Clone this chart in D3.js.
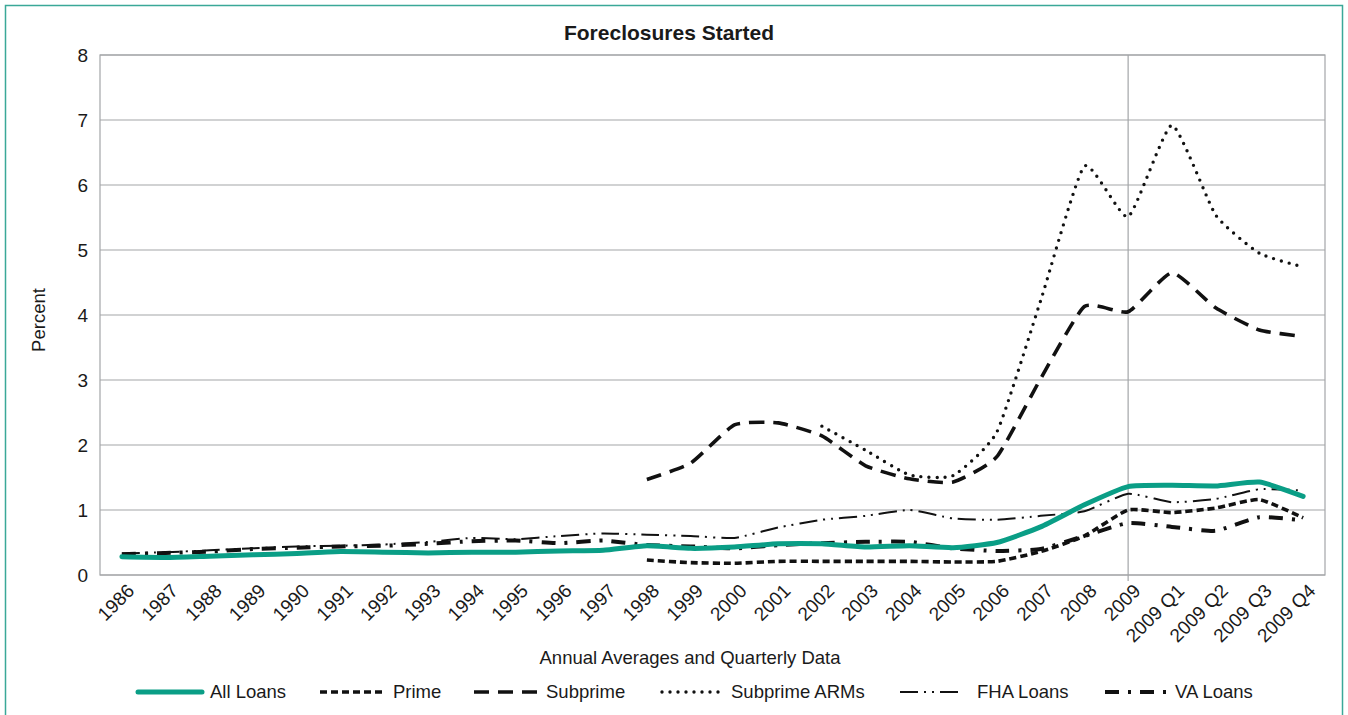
<!DOCTYPE html>
<html>
<head>
<meta charset="utf-8">
<script src="https://cdn.jsdelivr.net/npm/d3@7"></script>
<style>
  body { margin: 0; background: #fff; }
  text { font-family: "Liberation Sans", Arial, sans-serif; fill: #1a1a1a; }
</style>
</head>
<body>
<script>
// categories and series (percent)
var categories = ["1986","1987","1988","1989","1990","1991","1992","1993","1994","1995","1996","1997",
  "1998","1999","2000","2001","2002","2003","2004","2005","2006","2007","2008","2009",
  "2009 Q1","2009 Q2","2009 Q3","2009 Q4"];

var allLoans = [0.28,0.27,0.29,0.31,0.33,0.36,0.35,0.34,0.35,0.35,0.37,0.38,
  0.45,0.41,0.43,0.48,0.48,0.43,0.45,0.42,0.50,0.74,1.08,1.36,1.38,1.37,1.43,1.21];
var prime = [null,null,null,null,null,null,null,null,null,null,null,null,
  0.23,0.19,0.18,0.21,0.21,0.21,0.21,0.20,0.21,0.36,0.60,1.00,0.96,1.03,1.16,0.88];
var subprime = [null,null,null,null,null,null,null,null,null,null,null,null,
  1.47,1.72,2.31,2.34,2.14,1.68,1.48,1.43,1.82,3.02,4.13,4.05,4.65,4.11,3.77,3.67];
var subprimeArms = [null,null,null,null,null,null,null,null,null,null,null,null,
  null,null,null,null,2.29,1.92,1.54,1.53,2.20,4.22,6.29,5.51,6.92,5.54,4.95,4.74];
var fhaLoans = [0.33,0.35,0.38,0.41,0.44,0.45,0.47,0.51,0.57,0.55,0.60,0.64,
  0.62,0.60,0.57,0.73,0.85,0.91,1.00,0.87,0.85,0.91,0.98,1.25,1.12,1.17,1.32,1.30];
var vaLoans = [0.32,0.34,0.36,0.40,0.42,0.44,0.45,0.48,0.52,0.53,0.49,0.53,
  0.46,0.44,0.41,0.46,0.49,0.51,0.51,0.41,0.37,0.40,0.60,0.80,0.74,0.68,0.89,0.84];

var yTicks = [0,1,2,3,4,5,6,7,8];

var seriesNames = ["All Loans","Prime","Subprime","Subprime ARMs","FHA Loans","VA Loans"];
var seriesValues = [allLoans, prime, subprime, subprimeArms, fhaLoans, vaLoans];
var seriesStyle = [
  {color:"#0a9e86", width:5,   dash:null,               cap:"round"},
  {color:"#111",    width:3.6, dash:"7,4",              cap:"butt"},
  {color:"#111",    width:3.6, dash:"15,9",             cap:"butt"},
  {color:"#111",    width:3.4, dash:"0,8",              cap:"round"},
  {color:"#111",    width:2,   dash:"18,6,2,6,2,6",     cap:"butt"},
  {color:"#111",    width:4,   dash:"14,9,3,9",         cap:"butt"}
];

var width = 1348, height = 715;
var margin = {left:100, right:23, top:55, bottom:140};

var svg = d3.select("body").append("svg")
  .attr("width", width)
  .attr("height", height);

// outer frame
svg.append("rect")
  .attr("x", 5.5).attr("y", 5.5)
  .attr("width", 1337).attr("height", 720)
  .attr("fill", "none")
  .attr("stroke", "#3aa898")
  .attr("stroke-width", 1.5);

var x = d3.scalePoint()
  .domain(categories)
  .range([margin.left, width - margin.right])
  .padding(0.5);

var y = d3.scaleLinear()
  .domain([0, 8])
  .range([height - margin.bottom, margin.top]);

// gridlines
svg.append("g").selectAll("line")
  .data(yTicks)
  .enter().append("line")
  .attr("x1", margin.left).attr("x2", width - margin.right)
  .attr("y1", function(d){ return y(d); })
  .attr("y2", function(d){ return y(d); })
  .attr("stroke", "#a3a6a8")
  .attr("stroke-width", 1.2);

// plot frame
svg.append("rect")
  .attr("x", margin.left).attr("y", margin.top)
  .attr("width", width - margin.right - margin.left)
  .attr("height", height - margin.bottom - margin.top)
  .attr("fill", "none")
  .attr("stroke", "#a3a6a8")
  .attr("stroke-width", 1.2);

// divider between annual and quarterly data
svg.append("line")
  .attr("x1", x("2009")).attr("x2", x("2009"))
  .attr("y1", margin.top).attr("y2", height - margin.bottom + 6)
  .attr("stroke", "#a3a6a8")
  .attr("stroke-width", 1.2);

// y axis labels
var yAxis = d3.axisLeft(y).tickValues(yTicks).tickSize(0).tickPadding(12);
var yg = svg.append("g")
  .attr("transform", "translate(" + margin.left + ",0)")
  .call(yAxis);
yg.select(".domain").remove();
yg.selectAll("text")
  .style("font-size", "19px")
  .style("font-family", "'Liberation Sans', Arial, sans-serif")
  .attr("fill", "#1a1a1a");

// x axis labels
var xAxis = d3.axisBottom(x).tickSize(0).tickPadding(0);
var xg = svg.append("g")
  .attr("transform", "translate(0," + (height - margin.bottom) + ")")
  .call(xAxis);
xg.select(".domain").remove();
xg.selectAll("text")
  .style("font-size", "19px")
  .style("font-family", "'Liberation Sans', Arial, sans-serif")
  .attr("fill", "#1a1a1a")
  .attr("text-anchor", "end")
  .attr("dy", "0")
  .attr("y", 0)
  .attr("transform", "translate(13,17) rotate(-45)");

// lines
var line = d3.line()
  .defined(function(d){ return d.v != null; })
  .x(function(d){ return x(d.c); })
  .y(function(d){ return y(d.v); })
  .curve(d3.curveCardinal.tension(0.5));

var drawOrder = [5, 4, 1, 2, 3, 0];
drawOrder.forEach(function(i){
  var pts = categories.map(function(c, j){ return {c:c, v:seriesValues[i][j]}; });
  var s = seriesStyle[i];
  svg.append("path")
    .datum(pts)
    .attr("d", line)
    .attr("fill", "none")
    .attr("stroke", s.color)
    .attr("stroke-width", s.width)
    .attr("stroke-linecap", s.cap)
    .attr("stroke-linejoin", "round")
    .attr("stroke-dasharray", s.dash);
});

// title
svg.append("text")
  .attr("x", 669).attr("y", 40)
  .attr("text-anchor", "middle")
  .style("font-size", "21px")
  .style("font-weight", "bold")
  .text("Foreclosures Started");

// axis titles
svg.append("text")
  .attr("transform", "translate(45,320) rotate(-90)")
  .attr("text-anchor", "middle")
  .style("font-size", "18.5px")
  .text("Percent");

svg.append("text")
  .attr("x", 690).attr("y", 664)
  .attr("text-anchor", "middle")
  .style("font-size", "18.5px")
  .text("Annual Averages and Quarterly Data");

// legend
var legendX = [138, 320, 474, 662, 900, 1105];
var legendTextX = [210, 393, 546, 731, 977, 1175];
var lg = svg.append("g");
seriesNames.forEach(function(n, i){
  var s = seriesStyle[i];
  lg.append("line")
    .attr("x1", legendX[i]).attr("x2", legendX[i] + 64)
    .attr("y1", 692).attr("y2", 692)
    .attr("stroke", s.color)
    .attr("stroke-width", s.width)
    .attr("stroke-linecap", s.cap)
    .attr("stroke-dasharray", s.dash);
  lg.append("text")
    .attr("x", legendTextX[i]).attr("y", 698)
    .style("font-size", "18.5px")
    .text(n);
});
</script>
</body>
</html>
